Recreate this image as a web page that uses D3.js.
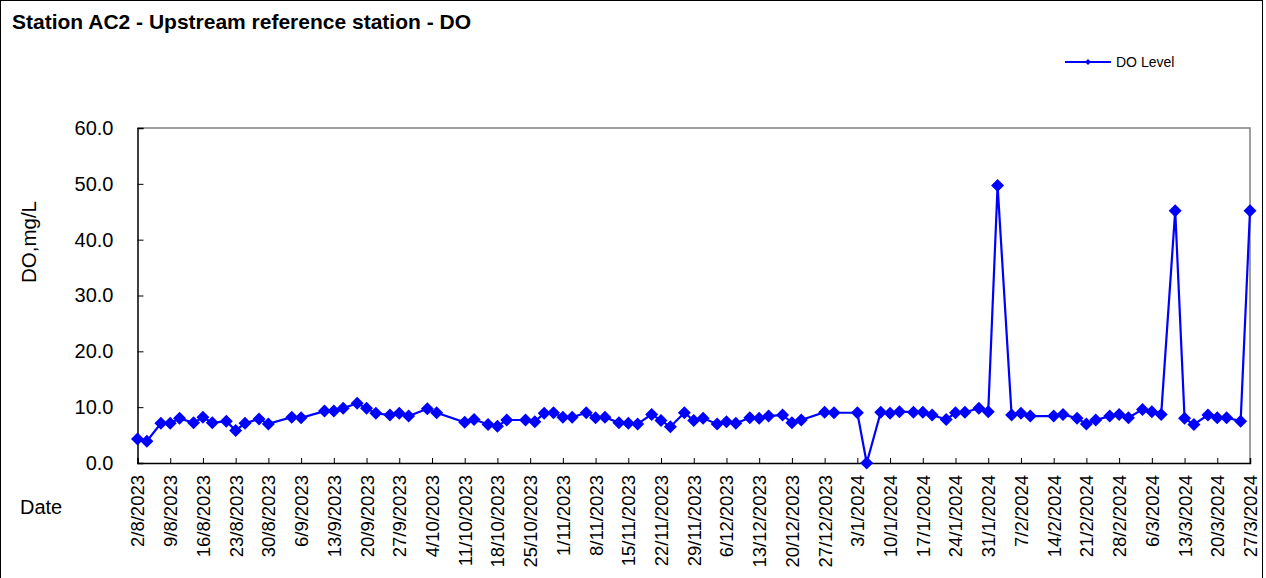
<!DOCTYPE html>
<html>
<head>
<meta charset="utf-8">
<script src="https://cdn.jsdelivr.net/npm/d3@7"></script>
<style>
  body { margin: 0; background: #fff; }
  svg text { font-family: Arial, "Liberation Sans", sans-serif; fill: #000; }
</style>
</head>
<body>
<div id="chart"></div>
<script>
// sampling dates (d/m/Y) and DO readings
var sampleDates = [
  "2/8/2023", "4/8/2023", "7/8/2023", "9/8/2023", "11/8/2023", "14/8/2023", "16/8/2023", "18/8/2023",
  "21/8/2023", "23/8/2023", "25/8/2023", "28/8/2023", "30/8/2023", "4/9/2023", "6/9/2023", "11/9/2023",
  "13/9/2023", "15/9/2023", "18/9/2023", "20/9/2023", "22/9/2023", "25/9/2023", "27/9/2023", "29/9/2023",
  "3/10/2023", "5/10/2023", "11/10/2023", "13/10/2023", "16/10/2023", "18/10/2023", "20/10/2023", "24/10/2023",
  "26/10/2023", "28/10/2023", "30/10/2023", "1/11/2023", "3/11/2023", "6/11/2023", "8/11/2023", "10/11/2023",
  "13/11/2023", "15/11/2023", "17/11/2023", "20/11/2023", "22/11/2023", "24/11/2023", "27/11/2023", "29/11/2023",
  "1/12/2023", "4/12/2023", "6/12/2023", "8/12/2023", "11/12/2023", "13/12/2023", "15/12/2023", "18/12/2023",
  "20/12/2023", "22/12/2023", "27/12/2023", "29/12/2023", "3/1/2024", "5/1/2024", "8/1/2024", "10/1/2024",
  "12/1/2024", "15/1/2024", "17/1/2024", "19/1/2024", "22/1/2024", "24/1/2024", "26/1/2024", "29/1/2024",
  "31/1/2024", "2/2/2024", "5/2/2024", "7/2/2024", "9/2/2024", "14/2/2024", "16/2/2024", "19/2/2024",
  "21/2/2024", "23/2/2024", "26/2/2024", "28/2/2024", "1/3/2024", "4/3/2024", "6/3/2024", "8/3/2024",
  "11/3/2024", "13/3/2024", "15/3/2024", "18/3/2024", "20/3/2024", "22/3/2024", "25/3/2024", "27/3/2024"
];

var doValues = [
  4.3, 3.9, 7.1, 7.1, 8.0, 7.2, 8.2, 7.2,
  7.5, 5.8, 7.1, 7.9, 7.0, 8.2, 8.1, 9.3,
  9.3, 9.8, 10.7, 9.8, 8.9, 8.6, 8.9, 8.4,
  9.7, 9.0, 7.3, 7.8, 6.9, 6.6, 7.7, 7.7,
  7.4, 8.9, 9.0, 8.2, 8.2, 9.0, 8.1, 8.2,
  7.2, 7.1, 7.0, 8.7, 7.6, 6.5, 9.0, 7.6,
  8.0, 7.0, 7.4, 7.1, 8.1, 8.0, 8.4, 8.6,
  7.2, 7.7, 9.1, 9.0, 9.0, 0.0, 9.1, 8.9,
  9.2, 9.1, 9.1, 8.6, 7.8, 9.0, 9.1, 9.8,
  9.2, 49.7, 8.6, 8.9, 8.4, 8.4, 8.7, 8.0,
  7.0, 7.7, 8.4, 8.7, 8.1, 9.6, 9.2, 8.7,
  45.2, 8.0, 6.9, 8.6, 8.1, 8.1, 7.5, 45.2
];

var yTicks = [0, 10, 20, 30, 40, 50, 60];
var xStart = "2/8/2023", xEnd = "27/3/2024";
var seriesName = "DO Level";

var W = 1266, H = 578;
var PLOT = { left: 137.5, right: 1250, top: 128, bottom: 463 };

var parseDate = d3.timeParse("%d/%m/%Y");
var fmtDate = d3.timeFormat("%-d/%-m/%Y");

var points = sampleDates.map(function (d, i) {
  return { date: parseDate(d), value: doValues[i] };
});

var svg = d3.select("#chart").append("svg")
  .attr("width", W)
  .attr("height", H);

// outer frame (bottom edge falls just off the picture)
svg.append("rect")
  .attr("x", 0.5).attr("y", 0.5)
  .attr("width", 1262).attr("height", H)
  .attr("fill", "#fff")
  .attr("stroke", "#000");

svg.append("text")
  .attr("x", 12).attr("y", 29)
  .style("font-size", "21px")
  .style("font-weight", "bold")
  .text("Station AC2 - Upstream reference station - DO");

var x = d3.scaleTime()
  .domain([parseDate(xStart), parseDate(xEnd)])
  .range([PLOT.left, PLOT.right]);

var y = d3.scaleLinear()
  .domain([0, 60])
  .range([PLOT.bottom, PLOT.top]);

// gray frame on top / right
svg.append("path")
  .attr("d", "M" + PLOT.left + "," + PLOT.top + "H" + PLOT.right + "V" + PLOT.bottom)
  .attr("fill", "none")
  .attr("stroke", "#808080")
  .attr("stroke-width", 1.5);

// y axis (ticks point inward)
var yAxis = svg.append("g")
  .attr("transform", "translate(" + PLOT.left + ",0)")
  .call(d3.axisLeft(y).tickValues(yTicks).tickSize(-6).tickPadding(24)
    .tickFormat(d3.format(".1f")));
yAxis.select(".domain").attr("stroke", "#000").attr("stroke-width", 1.5);
yAxis.selectAll("line").attr("stroke", "#000");
yAxis.selectAll("text").style("font-size", "20px").attr("fill", "#000");

// x axis: weekly ticks from the first sampling day, labels rotated
var xTicks = d3.range(0, 35).map(function (i) {
  return d3.timeDay.offset(parseDate(xStart), i * 7);
});

var xAxis = svg.append("g")
  .attr("transform", "translate(0," + PLOT.bottom + ")")
  .call(d3.axisBottom(x).tickValues(xTicks).tickSize(-5).tickFormat(fmtDate));
xAxis.select(".domain").attr("stroke", "#000").attr("stroke-width", 1.5);
xAxis.selectAll("line").attr("stroke", "#000");
xAxis.selectAll("text")
  .style("font-size", "18.5px")
  .attr("fill", "#000")
  .attr("text-anchor", "end")
  .attr("transform", "rotate(-90)")
  .attr("x", -12)
  .attr("y", 0)
  .attr("dy", "0.35em");

svg.append("text")
  .attr("transform", "translate(36,242) rotate(-90)")
  .attr("text-anchor", "middle")
  .style("font-size", "20.5px")
  .text("DO,mg/L");

svg.append("text")
  .attr("x", 20).attr("y", 514)
  .style("font-size", "20px")
  .text("Date");

// series
var line = d3.line()
  .x(function (d) { return x(d.date); })
  .y(function (d) { return y(d.value); });

svg.append("path")
  .datum(points)
  .attr("d", line)
  .attr("fill", "none")
  .attr("stroke", "#0000ff")
  .attr("stroke-width", 2.2);

var diamond = "M0,-6.5L6.5,0L0,6.5L-6.5,0Z";

svg.selectAll(".mark")
  .data(points)
  .enter()
  .append("path")
  .attr("class", "mark")
  .attr("d", diamond)
  .attr("transform", function (d) {
    return "translate(" + x(d.date) + "," + y(d.value) + ")";
  })
  .attr("fill", "#0000ff");

// legend
var lg = svg.append("g").attr("transform", "translate(1065,62)");
lg.append("line")
  .attr("x1", 0).attr("x2", 46)
  .attr("stroke", "#0000ff").attr("stroke-width", 2);
lg.append("path")
  .attr("d", "M0,-3L3,0L0,3L-3,0Z")
  .attr("transform", "translate(23,0)")
  .attr("fill", "#0000ff");
lg.append("text")
  .attr("x", 51).attr("y", 5)
  .style("font-size", "14px")
  .text(seriesName);
</script>
</body>
</html>
